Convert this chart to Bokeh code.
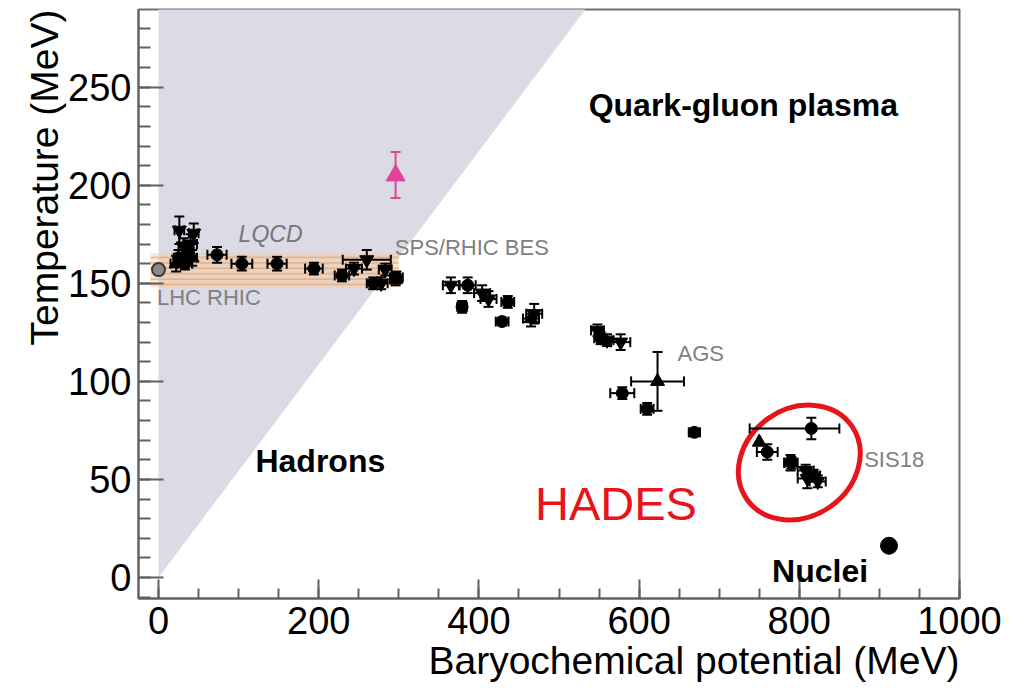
from bokeh.plotting import figure
from bokeh.models import (Range1d, SingleIntervalTicker, ColumnDataSource,
                          Whisker, TeeHead, Label, Title)
from bokeh.embed import file_html
from bokeh.resources import INLINE

# ---- chemical freeze-out points (mu_B, T) with uncertainties, in MeV ----
circ_mu = [25, 33, 37, 73, 104, 148, 194, 229, 268, 297, 379, 386, 436, 429,
           552, 579, 610, 669, 815, 760, 790, 818]
circ_T = [163, 160, 166, 164.5, 160, 160, 157.5, 154, 150, 153, 138, 149,
          140.5, 130.5, 122, 94, 86, 74, 76, 64, 58.5, 52]
circ_dmu_lo = [6, 9, 7, 12, 13, 12, 11, 9, 8, 8, 6, 10, 8, 8, 8, 15, 8, 7, 77,
               13, 8, 8]
circ_dmu_hi = [6, 9, 7, 12, 13, 12, 11, 9, 8, 8, 6, 10, 8, 8, 8, 15, 8, 7, 35,
               13, 8, 8]
circ_dT = [4, 3, 4, 4, 3.5, 3.5, 3, 3, 3, 3, 3, 4, 3, 2, 3, 3, 3, 2, 5.5, 4,
           3, 3]

inv_mu = [26, 44, 40, 31, 244, 260, 283, 278, 365, 404, 412, 469, 548, 560,
          577, 789, 808, 810, 823]
inv_T = [177, 175.5, 170, 169, 157.5, 162, 157, 150, 149, 145, 142, 134.5,
         126, 121, 120, 58.5, 54.5, 50.5, 49]
inv_dmu = [6, 6, 8, 6, 10, 30, 8, 8, 10, 10, 10, 10, 8, 8, 12, 8, 10, 12, 10]
inv_dT = [7, 5, 5, 4, 3, 5, 3, 3, 4, 4, 4, 5, 3, 3, 4, 4, 3, 5, 3]

tri_mu = [22, 42, 296, 465, 623, 750]
tri_T = [160, 163, 152, 132, 100, 69]
tri_dmu = [7, 6, 6, 10, 33, 0]
tri_dT = [4, 4, 3, 4, 15, 0]

# magenta point above the crossover
pink_mu = [296]
pink_T = [205]
pink_dT_lo = [11.5]
pink_dT_hi = [12]

# LHC / RHIC point and nuclear ground state
lhc_mu = [0]
lhc_T = [157]
nuc_mu = [912]
nuc_T = [16.2]

# lattice QCD crossover band
lqcd_mu = [-10, 300]
lqcd_T = [148, 165.5]

# hadron / QGP separation wedge
wedge_mu = [0, 0, 552]
wedge_T = [0, 300, 300]

# HADES region
hades_mu = [800]
hades_T = [58.6]

# region labels: text, mu, T
big_labels = ["Quark-gluon plasma", "Hadrons", "Nuclei"]
big_mu = [537, 121, 766]
big_T = [235, 53.5, -2.7]

grey_labels = ["LHC RHIC", "SPS/RHIC BES", "AGS", "SIS18"]
grey_mu = [-2, 295, 648, 881]
grey_T = [138.9, 164, 110, 56.2]

x_ticks_step = 200
y_ticks_step = 50

FONT = "Liberation Sans"

p = figure(width=1031, height=693, output_backend="svg", toolbar_location=None,
           x_range=Range1d(-25, 1000), y_range=Range1d(-10.7, 289.6),
           min_border_left=138, min_border_right=72, min_border_top=9,
           min_border_bottom=95)
p.grid.visible = False
p.background_fill_color = "white"
p.border_fill_color = "white"
p.outline_line_color = "#707070"
p.outline_line_width = 2

p.xaxis.ticker = SingleIntervalTicker(interval=x_ticks_step, num_minor_ticks=4)
p.yaxis.ticker = SingleIntervalTicker(interval=y_ticks_step, num_minor_ticks=5)
for ax in (p.xaxis[0], p.yaxis[0]):
    ax.axis_line_color = "#606060"
    ax.axis_line_width = 2
    ax.major_tick_line_color = "#606060"
    ax.minor_tick_line_color = "#606060"
    ax.major_tick_line_width = 2
    ax.minor_tick_line_width = 2
    ax.major_tick_out = 0
    ax.minor_tick_out = 0
    ax.major_label_text_font = FONT
    ax.major_label_text_font_size = "38px"
    ax.major_label_text_color = "black"
p.xaxis.major_tick_in = 19
p.xaxis.minor_tick_in = 10
p.yaxis.major_tick_in = 25
p.yaxis.minor_tick_in = 12
p.xaxis.major_label_standoff = 8
p.yaxis.major_label_standoff = 7

# axis titles, flush with the far end of each axis
p.add_layout(Title(text="Baryochemical potential (MeV)", align="right",
                   text_font=FONT, text_font_size="39px",
                   text_font_style="normal", text_color="black",
                   standoff=0, offset=0), "below")
p.add_layout(Title(text="Temperature (MeV)", align="right",
                   text_font=FONT, text_font_size="39px",
                   text_font_style="normal", text_color="black",
                   standoff=0, offset=0), "left")

# wedge and lattice band
p.patch(wedge_mu, wedge_T, fill_color="#dcdae4", line_color=None)
p.quad(left=[lqcd_mu[0]], right=[lqcd_mu[1]], bottom=[lqcd_T[0]], top=[lqcd_T[1]],
       fill_color="#f6c9a0", fill_alpha=0.45, line_color=None,
       hatch_pattern="horizontal_line", hatch_color="#e8a060",
       hatch_scale=5.4, hatch_weight=1.2, hatch_alpha=0.9)


def bars(mu, T, dmu_lo, dmu_hi, dT_lo, dT_hi, color="black"):
    xs = [i for i in range(len(mu)) if dmu_lo[i] > 0 or dmu_hi[i] > 0]
    ys = [i for i in range(len(mu)) if dT_lo[i] > 0 or dT_hi[i] > 0]
    head = dict(size=10, line_color=color, line_width=2)
    if xs:
        src = ColumnDataSource(dict(
            b=[T[i] for i in xs],
            lo=[mu[i] - dmu_lo[i] for i in xs],
            hi=[mu[i] + dmu_hi[i] for i in xs]))
        p.add_layout(Whisker(source=src, base="b", lower="lo", upper="hi",
                             dimension="width", line_color=color, line_width=2,
                             level="glyph",
                             lower_head=TeeHead(**head), upper_head=TeeHead(**head)))
    if ys:
        src = ColumnDataSource(dict(
            b=[mu[i] for i in ys],
            lo=[T[i] - dT_lo[i] for i in ys],
            hi=[T[i] + dT_hi[i] for i in ys]))
        p.add_layout(Whisker(source=src, base="b", lower="lo", upper="hi",
                             dimension="height", line_color=color, line_width=2,
                             level="glyph",
                             lower_head=TeeHead(**head), upper_head=TeeHead(**head)))


bars(circ_mu, circ_T, circ_dmu_lo, circ_dmu_hi, circ_dT, circ_dT)
bars(inv_mu, inv_T, inv_dmu, inv_dmu, inv_dT, inv_dT)
bars(tri_mu, tri_T, tri_dmu, tri_dmu, tri_dT, tri_dT)
bars(pink_mu, pink_T, [0], [0], pink_dT_lo, pink_dT_hi, color="#e0449a")

p.scatter(circ_mu, circ_T, marker="circle", size=12, fill_color="black",
          line_color="black")
p.scatter(inv_mu, inv_T, marker="inverted_triangle", size=14,
          fill_color="black", line_color="black")
p.scatter(tri_mu, tri_T, marker="triangle", size=14, fill_color="black",
          line_color="black")
p.scatter(pink_mu, pink_T, marker="triangle", size=19, fill_color="#e0449a",
          line_color="#e0449a")
p.scatter(lhc_mu, lhc_T, marker="circle", size=13, fill_color="#8a8a8a",
          line_color="#3a3a3a", line_width=2)
p.scatter(nuc_mu, nuc_T, marker="circle", size=17, fill_color="black",
          line_color="black")

p.ellipse(x=hades_mu, y=hades_T, width=128, height=108, width_units="screen",
          height_units="screen", angle=0.61, fill_color=None,
          line_color="#e8141c", line_width=5)

for t, x, y in zip(big_labels, big_mu, big_T):
    p.add_layout(Label(x=x, y=y, text=t, text_font=FONT, text_font_style="bold",
                       text_font_size="32px", text_color="black",
                       text_baseline="alphabetic", y_offset=12))
for t, x, y in zip(grey_labels, grey_mu, grey_T):
    p.add_layout(Label(x=x, y=y, text=t, text_font=FONT,
                       text_font_size="22px", text_color="#808080",
                       text_baseline="alphabetic", y_offset=8))
p.add_layout(Label(x=100, y=171.3, text="LQCD", text_font=FONT,
                   text_font_style="italic", text_font_size="23px",
                   text_color="#757580", text_baseline="alphabetic", y_offset=8))
p.add_layout(Label(x=470, y=28.5, text="HADES", text_font=FONT,
                   text_font_size="47px", text_color="#e8141c",
                   text_baseline="alphabetic", y_offset=18))

open("out.html", "w").write(file_html(p, INLINE))
